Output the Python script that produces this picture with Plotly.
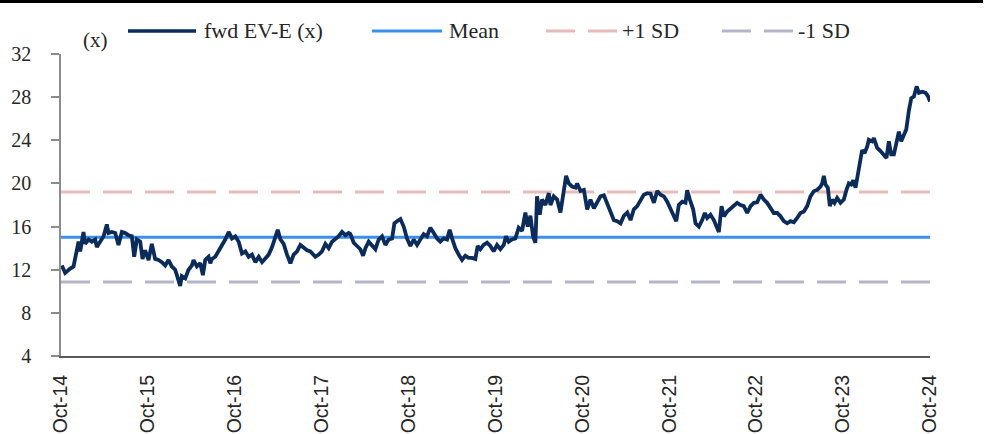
import pandas as pd
import plotly.graph_objects as go

# ---- data (decimal years) ----
t_years = [
    2014.758, 2014.796, 2014.854, 2014.892, 2014.930, 2014.950, 2014.969, 2015.007, 2015.026, 2015.065,
    2015.103, 2015.142, 2015.161, 2015.199, 2015.238, 2015.276, 2015.295, 2015.333, 2015.372, 2015.410,
    2015.449, 2015.487, 2015.525, 2015.564, 2015.591, 2015.621, 2015.660, 2015.687, 2015.717, 2015.756,
    2015.794, 2015.832, 2015.871, 2015.909, 2015.948, 2015.986, 2016.024, 2016.063, 2016.093, 2016.120,
    2016.139, 2016.178, 2016.216, 2016.255, 2016.274, 2016.312, 2016.351, 2016.381, 2016.408, 2016.446,
    2016.466, 2016.485, 2016.523, 2016.562, 2016.600, 2016.638, 2016.677, 2016.715, 2016.754, 2016.792,
    2016.830, 2016.869, 2016.907, 2016.945, 2016.984, 2017.022, 2017.061, 2017.099, 2017.137, 2017.176,
    2017.214, 2017.241, 2017.272, 2017.310, 2017.348, 2017.387, 2017.425, 2017.464, 2017.502, 2017.540,
    2017.579, 2017.617, 2017.675, 2017.713, 2017.751, 2017.790, 2017.828, 2017.867, 2017.905, 2017.943,
    2017.982, 2018.020, 2018.058,
    2018.078, 2018.116, 2018.155, 2018.193, 2018.224, 2018.251, 2018.289, 2018.327, 2018.366, 2018.404,
    2018.443, 2018.481, 2018.519, 2018.558, 2018.585, 2018.615, 2018.654, 2018.692, 2018.730, 2018.769,
    2018.807, 2018.846, 2018.884, 2018.922, 2018.961, 2018.999, 2019.038, 2019.076, 2019.114, 2019.153,
    2019.191, 2019.222, 2019.249, 2019.287, 2019.325, 2019.364, 2019.402, 2019.440, 2019.479, 2019.517,
    2019.544, 2019.575, 2019.613, 2019.652, 2019.690, 2019.728, 2019.767, 2019.805, 2019.844, 2019.870,
    2019.901, 2019.939, 2019.978, 2020.016, 2020.055, 2020.093, 2020.120, 2020.151, 2020.181, 2020.208,
    2020.227, 2020.258, 2020.285, 2020.323, 2020.362, 2020.381, 2020.419, 2020.458, 2020.496, 2020.534,
    2020.561, 2020.592, 2020.630, 2020.669, 2020.688, 2020.726, 2020.765, 2020.803, 2020.841, 2020.880,
    2020.918, 2020.956, 2020.995, 2021.033, 2021.072, 2021.110, 2021.148, 2021.187, 2021.225, 2021.264,
    2021.302, 2021.340, 2021.379,
    2021.417, 2021.455, 2021.494, 2021.532, 2021.571, 2021.609, 2021.647, 2021.686, 2021.724, 2021.762,
    2021.801, 2021.828, 2021.858, 2021.897, 2021.935, 2021.954, 2021.985, 2022.023, 2022.050, 2022.089,
    2022.127, 2022.158, 2022.185, 2022.223, 2022.261, 2022.292, 2022.319, 2022.350, 2022.377, 2022.415,
    2022.453, 2022.492, 2022.530, 2022.568, 2022.607, 2022.645, 2022.684, 2022.722, 2022.760, 2022.799,
    2022.837, 2022.875, 2022.914, 2022.952, 2022.991, 2023.029, 2023.067, 2023.106, 2023.144, 2023.183,
    2023.221, 2023.259, 2023.298, 2023.336, 2023.374, 2023.413, 2023.451, 2023.490, 2023.509, 2023.528,
    2023.547, 2023.574, 2023.597, 2023.624, 2023.651, 2023.681, 2023.720, 2023.758, 2023.789, 2023.816,
    2023.843, 2023.866, 2023.893, 2023.919, 2023.943, 2023.969, 2023.996, 2024.027, 2024.046, 2024.084,
    2024.104, 2024.142, 2024.180, 2024.219, 2024.249, 2024.276, 2024.303, 2024.334, 2024.365, 2024.391,
    2024.418, 2024.449, 2024.476, 2024.507, 2024.534, 2024.564, 2024.595, 2024.622, 2024.660, 2024.699,
    2024.725, 2024.749,
]
fwd_ev_e = [
    12.4, 11.7, 12.1, 12.3, 13.8, 14.6, 13.7, 15.5, 14.4, 14.8,
    14.6, 14.8, 14.1, 14.6, 15.1, 16.2, 15.4, 15.5, 15.4, 14.3,
    15.5, 15.4, 15.2, 15.1, 13.2, 14.8, 14.6, 13.0, 13.8, 12.9,
    14.4, 13.0, 12.9, 12.7, 12.4, 12.9, 12.3, 12.0, 11.2, 10.5,
    11.4, 11.2, 12.0, 12.4, 12.9, 12.3, 12.6, 11.5, 12.9, 13.2,
    12.6, 13.0, 13.2, 13.7, 14.3, 14.8, 15.5, 14.9, 15.1, 14.6,
    13.5, 13.7, 13.2, 13.4, 12.7, 13.2, 12.7, 13.0, 13.4, 14.1,
    14.9, 15.7, 14.8, 14.4, 13.4, 12.6, 13.4, 13.7, 14.3, 14.0,
    13.8, 13.7, 13.2, 13.4, 13.7, 14.4, 14.0, 14.6, 14.8, 15.1,
    15.5, 15.2, 15.4,
    15.3, 14.5, 14.2, 13.9, 13.3, 14.0, 14.6, 14.3, 13.9, 14.8,
    15.1, 14.3, 14.8, 14.9, 16.3, 16.5, 16.7, 16.0, 14.9, 14.2,
    14.8, 14.3, 14.8, 15.3, 15.1, 15.9, 15.4, 14.9, 14.6, 14.9,
    14.8, 15.7, 14.9, 14.0, 13.4, 12.9, 13.3, 13.1, 13.1, 13.0,
    14.2, 13.9, 14.3, 14.5, 14.2, 13.7, 14.3, 13.9, 14.3, 15.1,
    14.6, 14.8, 14.9, 15.9, 15.6, 17.3, 16.0, 17.0, 15.1, 14.5,
    18.8, 17.1, 18.5, 18.0, 19.1, 18.0, 18.8, 18.5, 17.3, 19.1,
    20.7, 20.0, 19.7, 19.6, 20.0, 19.3, 19.4, 17.6, 18.5, 17.7,
    18.2, 18.8, 18.9, 18.2, 17.4, 16.6, 16.5, 16.3, 17.0, 17.3,
    16.6, 17.6, 17.9,
    18.5, 18.96, 19.1, 19.05, 18.2, 19.3, 18.96, 18.8, 18.3, 17.6,
    16.95, 16.5, 18.0, 18.3, 18.2, 19.36, 18.5, 17.6, 16.3, 16.0,
    16.6, 17.26, 16.8, 17.1, 16.6, 16.0, 15.5, 17.9, 16.95, 17.4,
    17.7, 17.9, 18.2, 18.0, 17.9, 17.26, 17.9, 18.2, 18.25, 18.96,
    18.5, 18.2, 17.7, 17.26, 17.26, 16.95, 16.5, 16.3, 16.5, 16.4,
    16.8, 17.26, 17.4, 17.9, 18.8, 19.27, 19.4, 19.7, 20.0, 20.7,
    19.9, 19.6, 17.9, 18.5, 18.2, 18.65, 18.2, 18.5, 19.4, 20.0,
    19.9, 20.3, 19.6, 20.96, 21.9, 23.1, 22.8, 23.4, 24.05, 23.9,
    24.2, 23.3, 23.0, 22.7, 22.35, 23.9, 22.7, 22.7, 23.9, 24.8,
    23.9, 24.5, 25.0, 26.8, 27.9, 28.05, 29.0, 28.4, 28.5, 28.4,
    28.1, 27.6,
]
mean_val = 15.0
plus_1sd = 19.2
minus_1sd = 10.85

tick_years = list(range(2014, 2025))
y_ticks = [4, 8, 12, 16, 20, 24, 28, 32]

series_names = ["fwd EV-E (x)", "Mean", "+1 SD", "-1 SD"]
colors = ["#0B2C5A", "#3A8FEE", "#E8BAB9", "#B4B6C8"]


def to_date(t):
    y = int(t)
    start = pd.Timestamp(year=y, month=1, day=1)
    end = pd.Timestamp(year=y + 1, month=1, day=1)
    return start + (end - start) * (t - y)


dates = [to_date(t) for t in t_years]
x_start = pd.Timestamp(year=2014, month=10, day=1)
x_end = pd.Timestamp(year=2024, month=10, day=1)
tick_vals = [pd.Timestamp(year=y, month=10, day=1) for y in tick_years]
tick_text = [f"Oct-{str(y)[2:]}" for y in tick_years]

fig = go.Figure()
DASH = "29px,13px"
fig.add_trace(go.Scatter(x=[x_start, x_end], y=[minus_1sd, minus_1sd], mode="lines",
                         line=dict(color=colors[3], width=3, dash=DASH), name=series_names[3]))
fig.add_trace(go.Scatter(x=[x_start, x_end], y=[plus_1sd, plus_1sd], mode="lines",
                         line=dict(color=colors[2], width=3, dash=DASH), name=series_names[2]))
fig.add_trace(go.Scatter(x=[x_start, x_end], y=[mean_val, mean_val], mode="lines",
                         line=dict(color=colors[1], width=3), name=series_names[1]))
fig.add_trace(go.Scatter(x=dates, y=fwd_ev_e, mode="lines",
                         line=dict(color=colors[0], width=3.8), name=series_names[0]))

L, R, T, B = 61, 65, 54, 78
W, H = 995, 434
pw, ph = W - L - R, H - T - B


def px(x):
    return (x - L) / pw


def py(y):
    return (H - B - y) / ph


SERIF = "Liberation Serif, DejaVu Serif, serif"
shapes = [
    dict(type="line", xref="paper", yref="paper", x0=px(0), x1=px(983), y0=py(1.5), y1=py(1.5),
         line=dict(color="#000000", width=3)),
]
legend_items = [
    (128, 196, 202, series_names[0], colors[0], "solid", 3.5),
    (372, 442, 447, series_names[1], colors[1], "solid", 3),
    (546, 617, 620, series_names[2], colors[2], DASH, 3),
    (722, 793, 796, series_names[3], colors[3], DASH, 3),
]
annotations = [
    dict(text="(x)", xref="paper", yref="paper", x=px(81), y=py(40), xanchor="left", yanchor="middle",
         showarrow=False, font=dict(family=SERIF, size=21, color="#262626")),
]
for x0, x1, xt, name, col, dash, w in legend_items:
    shapes.append(dict(type="line", xref="paper", yref="paper", x0=px(x0), x1=px(x1), y0=py(31), y1=py(31),
                       line=dict(color=col, width=w, dash=dash)))
    annotations.append(dict(text=name, xref="paper", yref="paper", x=px(xt), y=py(31), xanchor="left",
                            yanchor="middle", showarrow=False,
                            font=dict(family=SERIF, size=22, color="#262626")))

fig.update_layout(
    width=W, height=H,
    margin=dict(l=L, r=R, t=T, b=B, pad=0, autoexpand=False),
    paper_bgcolor="white", plot_bgcolor="white",
    showlegend=False,
    shapes=shapes, annotations=annotations,
    xaxis=dict(range=[x_start, x_end], tickvals=tick_vals, ticktext=tick_text, tickangle=-90,
               showgrid=False, zeroline=False, showline=True, linecolor="#595959", linewidth=2,
               ticks="", ticklabelstandoff=9, automargin=False,
               tickfont=dict(family="Liberation Sans, Arial, sans-serif", size=19.5, color="#262626")),
    yaxis=dict(range=[4, 32], tickvals=y_ticks, showgrid=False, zeroline=False, showline=True,
               linecolor="#8C8C8C", linewidth=1.5, ticks="outside", ticklen=8, tickcolor="#8C8C8C",
               tickwidth=1.5, ticklabelstandoff=16, automargin=False,
               tickfont=dict(family=SERIF, size=20, color="#262626")),
)

fig.write_html("out.html")
